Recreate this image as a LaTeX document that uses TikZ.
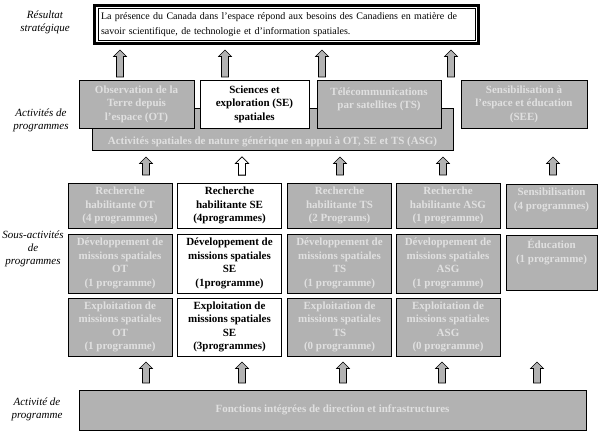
\documentclass[tikz,border=0pt]{standalone}
\usepackage{fontspec}
\setmainfont{Liberation Serif}
\usetikzlibrary{calc}
\definecolor{boxgray}{RGB}{178,178,178}
\definecolor{txtgray}{RGB}{224,224,224}
% block arrow pointing up: [fill] {x} {y of tip} {y of tail}
\newcommand{\blockarr}[4][boxgray]{%
  \draw[line width=0.6pt,fill=#1] (#2-3.5,#4) -- (#2-3.5,#3+6.5) -- (#2-6.5,#3+6.5) -- (#2,#3)
    -- (#2+6.5,#3+6.5) -- (#2+3.5,#3+6.5) -- (#2+3.5,#4) -- cycle;}
\begin{document}
\begin{tikzpicture}[x=1pt,y=-1pt,
  gbox/.style={draw,line width=0.8pt,fill=boxgray,text=txtgray,align=center,inner sep=2pt,
    font=\bfseries\fontsize{11}{13.5}\selectfont},
  wbox/.style={gbox,fill=white,text=black},
  boxsize/.style 2 args={minimum width=#1,minimum height=#2},
  lbl/.style={font=\itshape\fontsize{11}{13}\selectfont,align=center}]
\useasboundingbox (0,0) rectangle (600,436);
\node[lbl] (lres) at (45,22) {Résultat\\stratégique};
\node[lbl] (lact) at (41,120) {Activités de\\programmes};
\node[lbl] (lsous) at (33,249) {Sous-activités\\de\\programmes};
\node[lbl] (lpa) at (37,409) {Activité de\\programme};
\node[draw,line width=0.6pt,align=left,text width=371pt,inner xsep=3pt,boxsize={377pt}{32pt},
  font=\fontsize{10}{15}\selectfont] (res) at (286.5,24.5)
  {La présence du Canada dans l’espace répond aux besoins des Canadiens en matière de\\savoir scientifique, de technologie et d’information spatiales.};
\draw[line width=3pt] ($(res.north west)+(-3,-3)$) rectangle ($(res.south east)+(3,3)$);
\foreach \x in {120,225,322,451}
  \blockarr{\x}{50}{77}
\node[gbox,boxsize={361pt}{42pt},text height=32pt,text depth=2pt] (asg) at (272.5,129)
  {Activités spatiales de nature générique en appui à OT, SE et TS (ASG)};
\node[gbox,boxsize={115pt}{48pt}] (ot) at (136.5,104) {Observation de la\\Terre depuis\\l'espace (OT)};
\node[wbox,boxsize={109pt}{48pt}] (se) at (254.5,104) {Sciences et\\exploration (SE)\\spatiales};
\node[gbox,boxsize={124pt}{48pt},text height=27pt,text depth=17pt] (ts) at (379,104) {Télécommunications\\par satellites (TS)};
\node[gbox,boxsize={126pt}{48pt}] (see) at (524,104) {Sensibilisation à\\l'espace et éducation\\(SEE)};
\foreach \x in {146,340,443,553}
  \blockarr{\x}{157}{175}
\blockarr[white]{242}{157}{175}
\node[gbox,boxsize={104pt}{45pt}] (rot) at (120,205.5) {Recherche\\habilitante OT\\(4 programmes)};
\node[wbox,boxsize={104pt}{45pt}] (rse) at (229.5,205.5) {Recherche\\habilitante SE\\(4programmes)};
\node[gbox,boxsize={104pt}{45pt}] (rts) at (339.5,205.5) {Recherche\\habilitante TS\\(2 Programs)};
\node[gbox,boxsize={104pt}{45pt}] (rasg) at (448,205.5) {Recherche\\habilitante ASG\\(1 programme)};
\node[gbox,boxsize={91pt}{44pt},text height=23pt,text depth=17pt] (sens) at (551.5,206) {Sensibilisation\\(4 programmes)};
\node[gbox,boxsize={104pt}{59pt}] (dot) at (120,263.5) {Développement de\\missions spatiales\\OT\\(1 programme)};
\node[wbox,boxsize={104pt}{59pt}] (dse) at (229.5,263.5) {Développement de\\missions spatiales\\SE\\(1programme)};
\node[gbox,boxsize={104pt}{59pt}] (dts) at (339.5,263.5) {Développement de\\missions spatiales\\TS\\(1 programme)};
\node[gbox,boxsize={104pt}{59pt}] (dasg) at (448,263.5) {Développement de\\missions spatiales\\ASG\\(1 programme)};
\node[gbox,boxsize={91pt}{55pt},text height=25pt,text depth=26pt] (edu) at (551.5,262.5) {Éducation\\(1 programme)};
\node[gbox,boxsize={104pt}{58pt}] (eot) at (120,327) {Exploitation de\\missions spatiales\\OT\\(1 programme)};
\node[wbox,boxsize={104pt}{58pt}] (ese) at (229.5,327) {Exploitation de\\missions spatiales\\SE\\(3programmes)};
\node[gbox,boxsize={104pt}{58pt}] (ets) at (339.5,327) {Exploitation de\\missions spatiales\\TS\\(0 programme)};
\node[gbox,boxsize={104pt}{58pt}] (easg) at (448,327) {Exploitation de\\missions spatiales\\ASG\\(0 programme)};
\foreach \x in {146,242,343,442,537}
  \blockarr{\x}{362}{383}
\node[gbox,boxsize={507pt}{40pt}] (fid) at (332.5,410) {Fonctions intégrées de direction et infrastructures};
\end{tikzpicture}
\end{document}
